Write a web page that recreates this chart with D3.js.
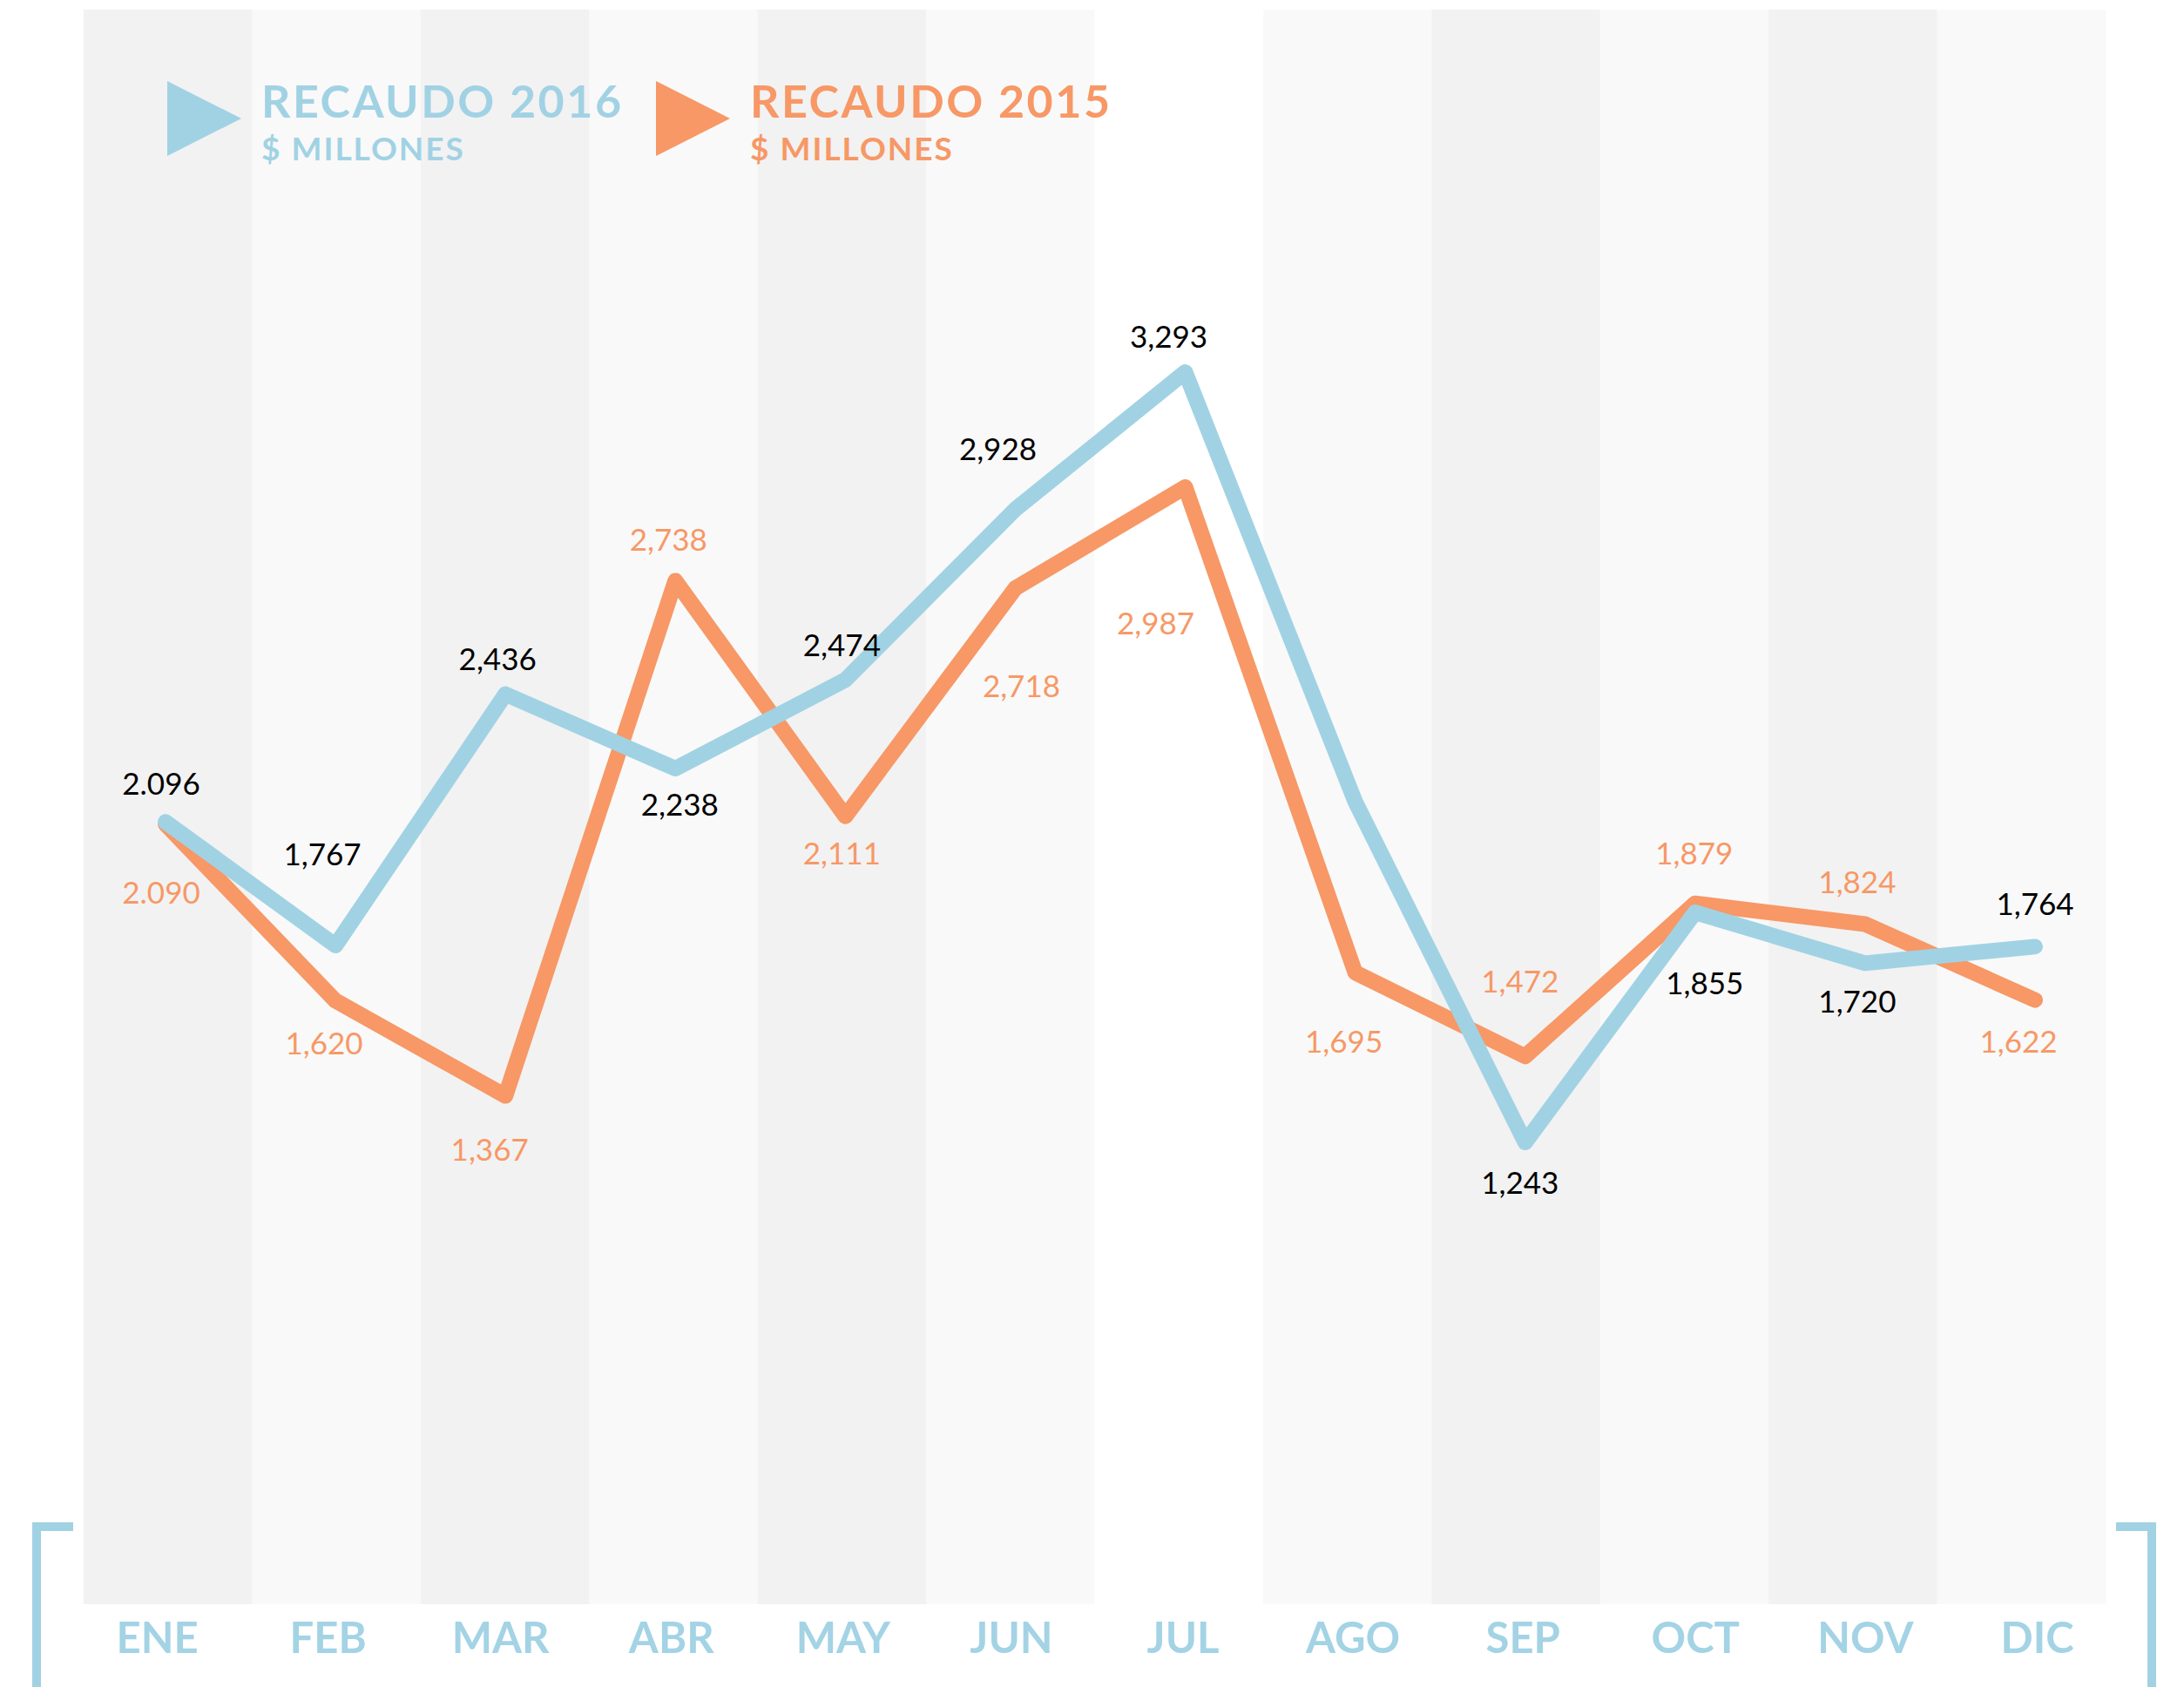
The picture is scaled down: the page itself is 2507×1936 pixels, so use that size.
<!DOCTYPE html>
<html>
<head>
<meta charset="utf-8">
<script src="https://cdn.jsdelivr.net/npm/d3@7"></script>
<style>
  html, body { margin: 0; padding: 0; background: #ffffff; }
  svg { display: block; }
</style>
</head>
<body>
<svg id="chart" width="2507" height="1936"></svg>
<script>
// ---------- DATA ----------
const months = ["ENE","FEB","MAR","ABR","MAY","JUN","JUL","AGO","SEP","OCT","NOV","DIC"];
const recaudo2016 = [2096, 1767, 2436, 2238, 2474, 2928, 3293, 2150, 1243, 1855, 1720, 1764];
const recaudo2015 = [2090, 1620, 1367, 2738, 2111, 2718, 2987, 1695, 1472, 1879, 1824, 1622];
const labels2016 = ["2.096","1,767","2,436","2,238","2,474","2,928","3,293", null,"1,243","1,855","1,720","1,764"];
const labels2015 = ["2.090","1,620","1,367","2,738","2,111","2,718","2,987","1,695","1,472","1,879","1,824","1,622"];
const stripeShade = ["dark","light","dark","light","dark","light","none","light","dark","light","dark","light"];

// ---------- LAYOUT (not data) ----------
const off2016 = [[-5,-31],[-15,-92],[-9,-28],[5,54],[-4,-27],[-20,-56],[-19,-28],[0,0],[-6,59],[11,94],[-9,57],[0,-36]];
const off2015 = [[-5,91],[-13,62],[-18,74],[-8,-34],[-4,55],[7,125],[-34,169],[-13,92],[-6,-73],[-1,-45],[-9,-36],[-19,60]];
const axisLabelShift = [-10,-9,-6,-5,-3,-5,-3,-3,-3,0,0,2];

const blue = "#a1d2e4";
const orange = "#f79866";

const svg = d3.select("#chart");

const xBand = d3.scaleBand().domain(months).range([96, 2417]).paddingInner(0).paddingOuter(0);
const x = d3.scalePoint().domain(months).range([190, 2336]);
const y = d3.scaleLinear().domain([0, 4258]).range([1847, 11]);

// stripes
const shadeColor = {dark: "#f2f2f2", light: "#f9f9f9", none: "#ffffff"};
svg.append("g").selectAll("rect")
  .data(months)
  .join("rect")
  .attr("x", d => xBand(d))
  .attr("y", 11)
  .attr("width", xBand.bandwidth() + 0.5)
  .attr("height", 1841 - 11)
  .attr("fill", (d, i) => shadeColor[stripeShade[i]]);

// lines
const line = d3.line().x(d => x(d.m)).y(d => y(d.v));
const s2015 = months.map((m, i) => ({m, v: recaudo2015[i]}));
const s2016 = months.map((m, i) => ({m, v: recaudo2016[i]}));

svg.append("path").datum(s2015)
  .attr("d", line).attr("fill", "none").attr("stroke", orange)
  .attr("stroke-width", 18).attr("stroke-linejoin", "round").attr("stroke-linecap", "round");
svg.append("path").datum(s2016)
  .attr("d", line).attr("fill", "none").attr("stroke", blue)
  .attr("stroke-width", 18).attr("stroke-linejoin", "round").attr("stroke-linecap", "round");

// value labels
const labelFont = "Lato, 'Noto Sans', sans-serif";
svg.append("g").selectAll("text")
  .data(s2016.map((d, i) => ({...d, t: labels2016[i], o: off2016[i]})).filter(d => d.t))
  .join("text")
  .attr("x", d => x(d.m) + d.o[0])
  .attr("y", d => y(d.v) + d.o[1])
  .attr("text-anchor", "middle")
  .attr("font-family", labelFont)
  .attr("font-size", 35)
  .attr("fill", "#000")
  .text(d => d.t);

svg.append("g").selectAll("text")
  .data(s2015.map((d, i) => ({...d, t: labels2015[i], o: off2015[i]})).filter(d => d.t))
  .join("text")
  .attr("x", d => x(d.m) + d.o[0])
  .attr("y", d => y(d.v) + d.o[1])
  .attr("text-anchor", "middle")
  .attr("font-family", labelFont)
  .attr("font-size", 35)
  .attr("fill", orange)
  .text(d => d.t);

// x axis labels
const axis = d3.axisBottom(x).tickSize(0).tickPadding(0);
const gAxis = svg.append("g").attr("transform", "translate(0,1862)").call(axis);
gAxis.select(".domain").remove();
gAxis.selectAll("text")
  .attr("dy", 0)
  .attr("y", 35)
  .attr("x", (d, i) => axisLabelShift[i])
  .attr("font-family", "Lato, sans-serif")
  .attr("font-weight", 700)
  .attr("font-size", 49)
  .attr("fill", "#a3d3e5");

// brackets
svg.append("path")
  .attr("d", "M84,1752 H42 V1936")
  .attr("fill", "none").attr("stroke", blue).attr("stroke-width", 10);
svg.append("path")
  .attr("d", "M2429,1752 H2470 V1936")
  .attr("fill", "none").attr("stroke", blue).attr("stroke-width", 10);

// legend
const legend = [
  {title: "RECAUDO ", year: "2016", color: blue, x: 192},
  {title: "RECAUDO ", year: "2015", color: orange, x: 753}
];
const lg = svg.append("g").selectAll("g").data(legend).join("g")
  .attr("transform", d => `translate(${d.x},0)`);
lg.append("path")
  .attr("d", "M0,93 L85,136 L0,179 Z")
  .attr("fill", d => d.color);
lg.append("text")
  .attr("x", 108).attr("y", 135)
  .attr("font-family", "Lato, sans-serif")
  .attr("font-weight", 700)
  .attr("font-size", 52)
  .attr("letter-spacing", 2.5)
  .attr("fill", d => d.color)
  .text(d => d.title + d.year);
lg.append("text")
  .attr("x", 108).attr("y", 184)
  .attr("font-family", "Lato, sans-serif")
  .attr("font-weight", 700)
  .attr("font-size", 37)
  .attr("letter-spacing", 2)
  .attr("fill", d => d.color)
  .text("$ MILLONES");
</script>
</body>
</html>
